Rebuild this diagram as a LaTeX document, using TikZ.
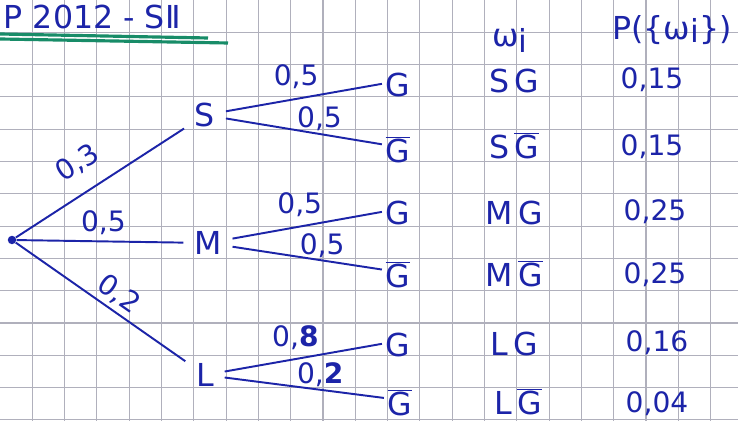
\documentclass[tikz,border=0pt]{standalone}
\usepackage{fontspec}
\setmainfont{DejaVu Sans}

\definecolor{ink}{RGB}{28,36,168}
\definecolor{marker}{RGB}{24,140,104}
\definecolor{paper}{RGB}{176,176,188}

\newcommand{\Gbar}{$\overline{\mbox{G}}$}

\begin{document}
\begin{tikzpicture}[
    x=0.02cm,
    y=-0.02cm,
    ev/.style={text=ink, font=\fontsize{18}{20}\selectfont, inner sep=2pt},
    lvl/.style={ev, inner xsep=6pt},
    leaf/.style={ev, text height=18pt, text depth=0pt},
    prob/.style={text=ink, font=\fontsize{16}{18}\selectfont, inner sep=1pt},
    branch/.style={draw=ink, line width=1.1pt},
    root/.style={circle, fill=ink, inner sep=1.7pt}
]
\useasboundingbox (0,0) rectangle (738,421);
\fill[white] (0,0) rectangle (738,421);
\foreach \k in {1,...,22}
    \draw[paper, line width=0.6pt] (32.3*\k,0) -- (32.3*\k,421);
\foreach \k in {1,...,13}
    \draw[paper, line width=0.6pt] (0,32.3*\k) -- (738,32.3*\k);

\node[ev, anchor=west] (title) at (0,17) {P 2012 - SⅡ};
\draw[marker, line width=1.8pt] (0,34) -- (208,38);
\draw[marker, line width=1.8pt] (0,39) -- (228,43);

\node[root] (o) at (12,240) {};
\node[lvl] (S) at (205,115) {S};
\node[lvl] (M) at (208,243) {M};
\node[lvl] (L) at (205,375) {L};

\node[leaf] (sg) at (398,81) {G};
\node[leaf] (sng) at (398,147) {\Gbar};
\node[leaf] (mg) at (398,209) {G};
\node[leaf] (mng) at (398,272) {\Gbar};
\node[leaf] (lg) at (398,341) {G};
\node[leaf] (lng) at (400,400) {\Gbar};

\draw[branch] (o) -- node[prob, sloped, above=8pt, pos=0.46] {0,3} (S);
\draw[branch] (o) -- node[prob, above=2pt, pos=0.52] {0,5} (M);
\draw[branch] (o) -- node[prob, sloped, above=1pt, pos=0.55] {0,2} (L);

\draw[branch] (S) -- node[prob, above=4pt, pos=0.45] {0,5} (sg);
\draw[branch] (S) -- node[prob, above, pos=0.6] {0,5} (sng);
\draw[branch] (M) -- node[prob, above=4pt, pos=0.45] {0,5} (mg);
\draw[branch] (M) -- node[prob, above, pos=0.6] {0,5} (mng);
\draw[branch] (L) -- node[prob, above=4pt, pos=0.45] {0,\textbf{8}} (lg);
\draw[branch] (L) -- node[prob, above, pos=0.6] {0,\textbf{2}} (lng);

\node[ev] (w) at (510,40) {ω\lower3pt\hbox{i}};
\node[ev] (pw) at (672,30) {P(\{ω\lower2pt\hbox{i}\})};

\node[leaf] (o1) at (514,77) {S\,G};
\node[leaf] (o2) at (514,143) {S\,\Gbar};
\node[leaf] (o3) at (514,209) {M\,G};
\node[leaf] (o4) at (514,271) {M\,\Gbar};
\node[leaf] (o5) at (514,340) {L\,G};
\node[leaf] (o6) at (518,399) {L\,\Gbar};

\node[prob] (p1) at (652,80) {0,15};
\node[prob] (p2) at (652,147) {0,15};
\node[prob] (p3) at (655,212) {0,25};
\node[prob] (p4) at (655,275) {0,25};
\node[prob] (p5) at (657,343) {0,16};
\node[prob] (p6) at (657,404) {0,04};
\end{tikzpicture}
\end{document}
